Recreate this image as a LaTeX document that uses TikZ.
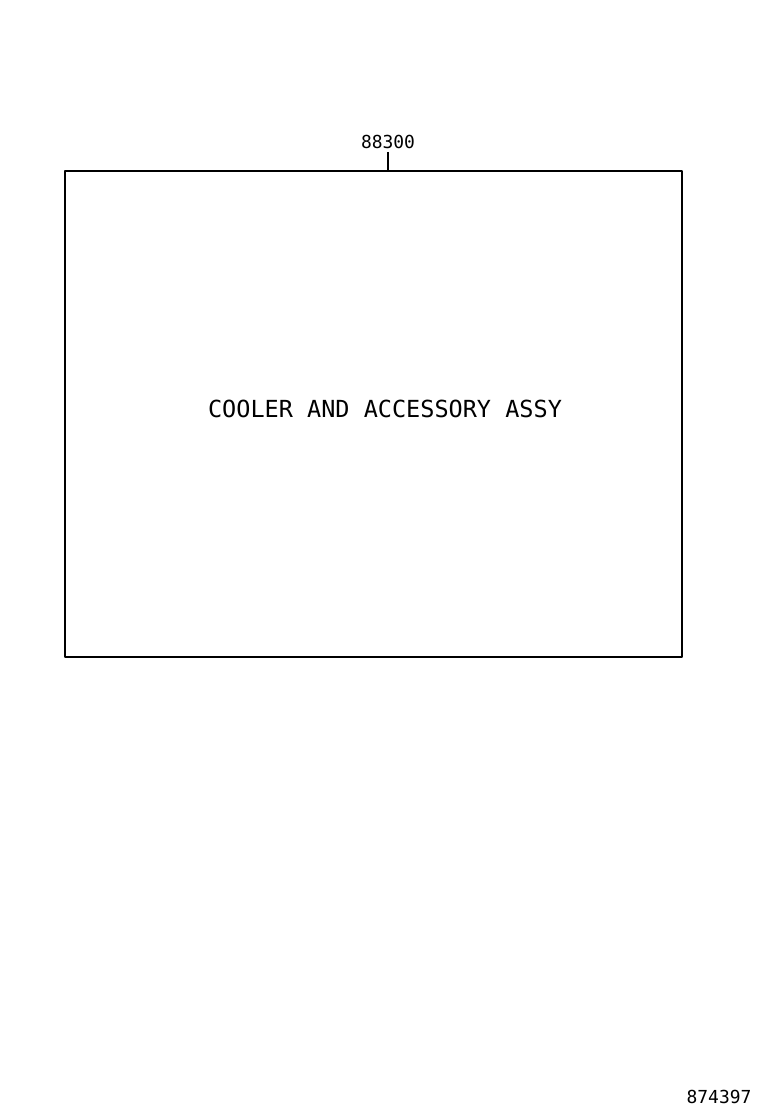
\documentclass[tikz,border=0pt]{standalone}
\usepackage{fontspec}
\newfontfamily\partfont{DejaVu Sans Mono}
\begin{document}
\begin{tikzpicture}[x=1bp,y=1bp,line join=bevel,
  partlabel/.style={inner sep=0pt,font=\partfont\fontsize{18}{18}\selectfont},
  titlelabel/.style={inner sep=0pt,font=\partfont\fontsize{23.6}{24}\selectfont}]
%%
\useasboundingbox (0bp,0bp) rectangle (760bp,-1112bp);
\node (box) at (373.5bp,-414bp) [draw,line width=1.3bp,minimum width=617bp,minimum height=486bp,inner sep=0pt] {};
\node (title) at (385bp,-409bp) [titlelabel] {COOLER AND ACCESSORY ASSY};
\node (num) at (388bp,-142bp) [partlabel] {88300};
\node (fig) at (719bp,-1097bp) [partlabel] {874397};
\coordinate (tap) at (388bp,-171bp);
  \draw [black,line width=1.3bp] (num.south) ++(0,-3bp) -- (tap);
%
\end{tikzpicture}
\end{document}
